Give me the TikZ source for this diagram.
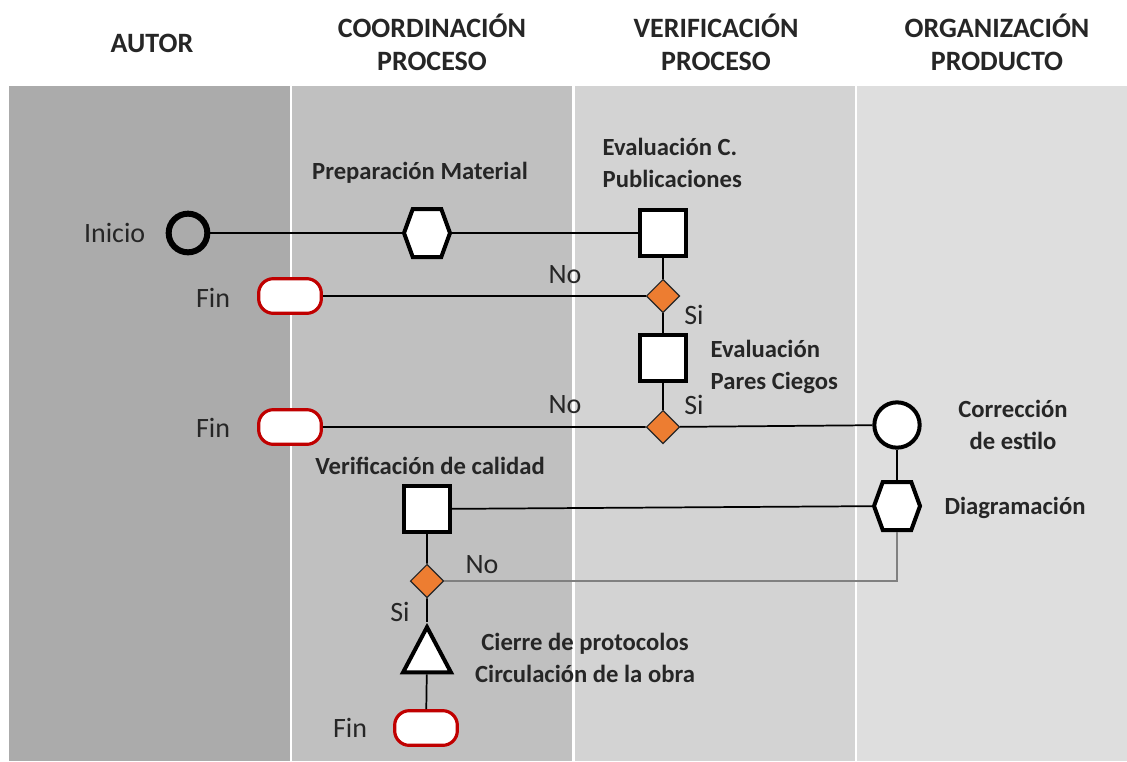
\documentclass[tikz,border=0pt]{standalone}
\usepackage{fontspec}
\setmainfont{Carlito}
\usepackage{tikz}
\usetikzlibrary{shapes.geometric,shapes.symbols}

\definecolor{laneA}{HTML}{ABABAB}
\definecolor{laneB}{HTML}{C0C0C0}
\definecolor{laneC}{HTML}{D3D3D3}
\definecolor{laneD}{HTML}{DEDEDE}
\definecolor{orangedec}{HTML}{ED7D31}
\definecolor{finred}{HTML}{C00000}
\definecolor{txt}{HTML}{262626}

\begin{document}
\begin{tikzpicture}[x=0.75pt, y=-0.75pt,
  header/.style={font=\fontsize{21}{24.75}\selectfont\bfseries, text=txt, align=center},
  task/.style={font=\fontsize{18.5}{24}\selectfont\bfseries, text=txt},
  tag/.style={font=\fontsize{21}{25}\selectfont, text=txt},
  activity/.style={rectangle, draw=black, fill=white, line width=3pt, minimum size=34.5pt, inner sep=0pt},
  decision/.style={diamond, draw=black!85, fill=orangedec, line width=0.9pt, minimum size=25pt, inner sep=0pt},
  finbox/.style={rectangle, rounded corners=11pt, draw=finred, fill=white, line width=2.4pt, minimum width=47pt, minimum height=26pt, inner sep=0pt},
  hexa/.style={signal, signal to=east and west, signal pointer angle=140, draw=black, fill=white, line width=3pt, minimum width=34.5pt, minimum height=36pt, inner sep=0pt},
  startring/.style={circle, draw=black, line width=4.5pt, minimum size=29pt, inner sep=0pt},
  event/.style={circle, draw=black, fill=white, line width=3pt, minimum size=34pt, inner sep=0pt},
  closebox/.style={isosceles triangle, shape border rotate=90, isosceles triangle stretches, draw=black, fill=white, line width=3pt, minimum width=36pt, minimum height=34pt, inner sep=0pt},
  link/.style={draw=black, line width=1.3pt},
  backlink/.style={draw=black!50, line width=1pt}
]

 \useasboundingbox (0,0) rectangle (1127,761);
 \fill[white] (0,0) rectangle (1127,761);

 % lanes
 \fill[laneA] (9,86) rectangle (290,761);
 \fill[laneB] (292,86) rectangle (572,761);
 \fill[laneC] (575,86) rectangle (855,761);
 \fill[laneD] (857,86) rectangle (1127,761);

 % headers
 \node[header] (hAutor) at (152,43) {AUTOR};
 \node[header] (hCoord) at (432,42) {COORDINACIÓN\\PROCESO};
 \node[header] (hVerif) at (716,42) {VERIFICACIÓN\\PROCESO};
 \node[header] (hOrg) at (997,42) {ORGANIZACIÓN\\PRODUCTO};

 % nodes
 \node[startring] (inicio) at (188,233) {};
 \node[hexa] (prep) at (427,233) {};
 \node[activity] (evalC) at (663,233) {};
 \node[decision] (dec1) at (663,296) {};
 \node[finbox] (fin1) at (290,296) {};
 \node[activity] (evalP) at (663,358) {};
 \node[decision] (dec2) at (663,427) {};
 \node[finbox] (fin2) at (290,427) {};
 \node[event] (correc) at (897,425) {};
 \node[hexa] (diag) at (897,506) {};
 \node[activity] (verif) at (427,509) {};
 \node[decision] (dec3) at (427,581) {};
 \node[closebox] (cierre) at (427,658) {};
 \node[finbox] (fin3) at (426,728) {};

 % connectors
 \draw[link] (inicio) -- (prep) -- (evalC);
 \draw[link] (evalC) -- (dec1) -- (evalP) -- (dec2);
 \draw[link] (fin1) -- (dec1);
 \draw[link] (fin2) -- (dec2) -- (correc);
 \draw[link] (correc) -- (diag);
 \draw[link] (verif) -- (diag);
 \draw[link] (verif) -- (dec3) -- (cierre) -- (fin3);
 \draw[backlink] (dec3) -| (diag);

 % legend
 \node[tag, anchor=east] (tInicio) at (150,233) {Inicio};
 \node[tag] (tFin1) at (213,298) {Fin};
 \node[tag] (tFin2) at (213,428) {Fin};
 \node[tag] (tFin3) at (350,728) {Fin};
 \node[tag] (tNo1) at (565,275) {No};
 \node[tag] (tNo2) at (565,405) {No};
 \node[tag] (tNo3) at (482,565) {No};
 \node[tag] (tSi1) at (694,315) {Si};
 \node[tag] (tSi2) at (694,405) {Si};
 \node[tag] (tSi3) at (400,612) {Si};

 \node[task] (tPrep) at (420,173) {Preparación Material};
 \node[task, anchor=west, align=left] (tEvalC) at (598,163) {Evaluación C.\\Publicaciones};
 \node[task, anchor=west, align=left] (tEvalP) at (706,367) {Evaluación\\Pares Ciegos};
 \node[task, align=center] (tCorrec) at (1013,425) {Corrección\\de estilo};
 \node[task] (tDiag) at (1015,508) {Diagramación};
 \node[task] (tVerif) at (430,466) {Verificación de calidad};
 \node[task, align=center] (tCierre) at (585,658) {Cierre de protocolos\\Circulación de la obra};

\end{tikzpicture}
\end{document}
